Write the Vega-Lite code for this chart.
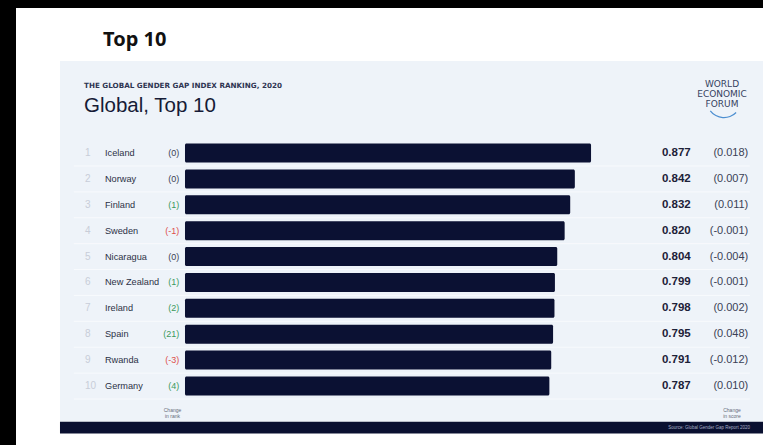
{
  "$schema": "https://vega.github.io/schema/vega-lite/v6.json",
  "width": 763,
  "height": 445,
  "autosize": {"type": "fit", "contains": "padding"},
  "padding": {"left": 16, "top": 8, "right": 0, "bottom": 0},
  "background": "#000000",
  "config": {"view": {"fill": "#ffffff", "stroke": null}, "scale": {"continuousPadding": 0}},
  "datasets": {
    "rows": [
      {"rank": 1, "country": "Iceland", "rank_change": 0, "rank_change_label": "(0)", "score": 0.877, "score_label": "0.877", "score_change_label": "(0.018)"},
      {"rank": 2, "country": "Norway", "rank_change": 0, "rank_change_label": "(0)", "score": 0.842, "score_label": "0.842", "score_change_label": "(0.007)"},
      {"rank": 3, "country": "Finland", "rank_change": 1, "rank_change_label": "(1)", "score": 0.832, "score_label": "0.832", "score_change_label": "(0.011)"},
      {"rank": 4, "country": "Sweden", "rank_change": -1, "rank_change_label": "(-1)", "score": 0.820, "score_label": "0.820", "score_change_label": "(-0.001)"},
      {"rank": 5, "country": "Nicaragua", "rank_change": 0, "rank_change_label": "(0)", "score": 0.804, "score_label": "0.804", "score_change_label": "(-0.004)"},
      {"rank": 6, "country": "New Zealand", "rank_change": 1, "rank_change_label": "(1)", "score": 0.799, "score_label": "0.799", "score_change_label": "(-0.001)"},
      {"rank": 7, "country": "Ireland", "rank_change": 2, "rank_change_label": "(2)", "score": 0.798, "score_label": "0.798", "score_change_label": "(0.002)"},
      {"rank": 8, "country": "Spain", "rank_change": 21, "rank_change_label": "(21)", "score": 0.795, "score_label": "0.795", "score_change_label": "(0.048)"},
      {"rank": 9, "country": "Rwanda", "rank_change": -3, "rank_change_label": "(-3)", "score": 0.791, "score_label": "0.791", "score_change_label": "(-0.012)"},
      {"rank": 10, "country": "Germany", "rank_change": 4, "rank_change_label": "(4)", "score": 0.787, "score_label": "0.787", "score_change_label": "(0.010)"}
    ],
    "one": [{"k": 1}]
  },
  "layer": [
    {
      "data": {"name": "one"},
      "mark": {"type": "rect", "color": "#eef3f9"},
      "encoding": {
        "x": {"datum": -0.27, "type": "quantitative", "scale": {"type": "linear", "domain": [-0.365, 1.2484], "nice": false, "zero": false, "padding": 0}, "axis": null},
        "x2": {"datum": 1.2484},
        "y": {"datum": -2.553, "type": "quantitative", "scale": {"type": "linear", "domain": [-4.601, 12.279], "nice": false, "zero": false, "reverse": true, "padding": 0}, "axis": null},
        "y2": {"datum": 11.378}
      }
    },
    {
      "data": {"name": "one"},
      "mark": {"type": "rect", "color": "#0a1030"},
      "encoding": {
        "x": {"datum": -0.27, "type": "quantitative", "scale": {"type": "linear", "domain": [-0.365, 1.2484], "nice": false, "zero": false, "padding": 0}, "axis": null},
        "x2": {"datum": 1.2484},
        "y": {"datum": 11.378, "type": "quantitative", "scale": {"type": "linear", "domain": [-4.601, 12.279], "nice": false, "zero": false, "reverse": true, "padding": 0}, "axis": null},
        "y2": {"datum": 11.834}
      }
    },
    {
      "data": {"name": "rows"},
      "mark": {"type": "rule", "color": "#f8fafd", "strokeWidth": 1, "yOffset": 13},
      "encoding": {
        "x": {"datum": -0.24, "type": "quantitative", "scale": {"type": "linear", "domain": [-0.365, 1.2484], "nice": false, "zero": false, "padding": 0}, "axis": null},
        "x2": {"datum": 1.22},
        "y": {"field": "rank", "type": "quantitative", "scale": {"type": "linear", "domain": [-4.601, 12.279], "nice": false, "zero": false, "reverse": true, "padding": 0}, "axis": null}
      }
    },
    {
      "data": {"name": "rows"},
      "mark": {"type": "bar", "orient": "horizontal", "size": 19, "cornerRadius": 1.5, "color": "#0b1133"},
      "encoding": {
        "x": {"field": "score", "type": "quantitative", "scale": {"type": "linear", "domain": [-0.365, 1.2484], "nice": false, "zero": false, "padding": 0}, "axis": null},
        "x2": {"datum": 0},
        "y": {"field": "rank", "type": "quantitative", "scale": {"type": "linear", "domain": [-4.601, 12.279], "nice": false, "zero": false, "reverse": true, "padding": 0}, "axis": null}
      }
    },
    {
      "data": {"name": "rows"},
      "mark": {"type": "text", "align": "left", "baseline": "middle", "font": "Liberation Sans", "fontSize": 10, "color": "#c8cdd8"},
      "encoding": {
        "x": {"datum": -0.216, "type": "quantitative", "scale": {"type": "linear", "domain": [-0.365, 1.2484], "nice": false, "zero": false, "padding": 0}, "axis": null},
        "y": {"field": "rank", "type": "quantitative", "scale": {"type": "linear", "domain": [-4.601, 12.279], "nice": false, "zero": false, "reverse": true, "padding": 0}, "axis": null},
        "text": {"field": "rank"}
      }
    },
    {
      "data": {"name": "rows"},
      "mark": {"type": "text", "align": "left", "baseline": "middle", "font": "Liberation Sans", "fontSize": 9.2, "color": "#2b3045"},
      "encoding": {
        "x": {"datum": -0.1728, "type": "quantitative", "scale": {"type": "linear", "domain": [-0.365, 1.2484], "nice": false, "zero": false, "padding": 0}, "axis": null},
        "y": {"field": "rank", "type": "quantitative", "scale": {"type": "linear", "domain": [-4.601, 12.279], "nice": false, "zero": false, "reverse": true, "padding": 0}, "axis": null},
        "text": {"field": "country"}
      }
    },
    {
      "data": {"name": "rows"},
      "mark": {"type": "text", "align": "right", "baseline": "middle", "font": "Liberation Sans", "fontSize": 9},
      "encoding": {
        "x": {"datum": -0.0123, "type": "quantitative", "scale": {"type": "linear", "domain": [-0.365, 1.2484], "nice": false, "zero": false, "padding": 0}, "axis": null},
        "y": {"field": "rank", "type": "quantitative", "scale": {"type": "linear", "domain": [-4.601, 12.279], "nice": false, "zero": false, "reverse": true, "padding": 0}, "axis": null},
        "text": {"field": "rank_change_label"},
        "color": {
          "condition": [
            {"test": "datum.rank_change > 0", "value": "#3a9a5c"},
            {"test": "datum.rank_change < 0", "value": "#dd4f4b"}
          ],
          "value": "#3a3f55"
        }
      }
    },
    {
      "data": {"name": "rows"},
      "mark": {"type": "text", "align": "left", "baseline": "middle", "font": "Liberation Sans", "fontSize": 11.5, "fontWeight": "bold", "color": "#1c2138"},
      "encoding": {
        "x": {"datum": 1.0302, "type": "quantitative", "scale": {"type": "linear", "domain": [-0.365, 1.2484], "nice": false, "zero": false, "padding": 0}, "axis": null},
        "y": {"field": "rank", "type": "quantitative", "scale": {"type": "linear", "domain": [-4.601, 12.279], "nice": false, "zero": false, "reverse": true, "padding": 0}, "axis": null},
        "text": {"field": "score_label"}
      }
    },
    {
      "data": {"name": "rows"},
      "mark": {"type": "text", "align": "right", "baseline": "middle", "font": "Liberation Sans", "fontSize": 11, "color": "#3a3f55"},
      "encoding": {
        "x": {"datum": 1.2166, "type": "quantitative", "scale": {"type": "linear", "domain": [-0.365, 1.2484], "nice": false, "zero": false, "padding": 0}, "axis": null},
        "y": {"field": "rank", "type": "quantitative", "scale": {"type": "linear", "domain": [-4.601, 12.279], "nice": false, "zero": false, "reverse": true, "padding": 0}, "axis": null},
        "text": {"field": "score_change_label"}
      }
    },
    {
      "data": {"name": "one"},
      "mark": {"type": "text", "align": "left", "baseline": "alphabetic", "font": "Noto Sans", "fontSize": 20, "fontWeight": "bold", "color": "#111111", "text": "Top 10"},
      "encoding": {
        "x": {"datum": -0.1771, "type": "quantitative", "scale": {"type": "linear", "domain": [-0.365, 1.2484], "nice": false, "zero": false, "padding": 0}, "axis": null},
        "y": {"datum": -3.144, "type": "quantitative", "scale": {"type": "linear", "domain": [-4.601, 12.279], "nice": false, "zero": false, "reverse": true, "padding": 0}, "axis": null}
      }
    },
    {
      "data": {"name": "one"},
      "mark": {"type": "text", "align": "left", "baseline": "alphabetic", "font": "DejaVu Sans", "fontSize": 7.2, "fontWeight": "bold", "color": "#2f3552", "text": "THE GLOBAL GENDER GAP INDEX RANKING, 2020"},
      "encoding": {
        "x": {"datum": -0.2181, "type": "quantitative", "scale": {"type": "linear", "domain": [-0.365, 1.2484], "nice": false, "zero": false, "padding": 0}, "axis": null},
        "y": {"datum": -1.499, "type": "quantitative", "scale": {"type": "linear", "domain": [-4.601, 12.279], "nice": false, "zero": false, "reverse": true, "padding": 0}, "axis": null}
      }
    },
    {
      "data": {"name": "one"},
      "mark": {"type": "text", "align": "left", "baseline": "alphabetic", "font": "Liberation Sans", "fontSize": 20.5, "color": "#161b36", "text": "Global, Top 10"},
      "encoding": {
        "x": {"datum": -0.2181, "type": "quantitative", "scale": {"type": "linear", "domain": [-0.365, 1.2484], "nice": false, "zero": false, "padding": 0}, "axis": null},
        "y": {"datum": -0.603, "type": "quantitative", "scale": {"type": "linear", "domain": [-4.601, 12.279], "nice": false, "zero": false, "reverse": true, "padding": 0}, "axis": null}
      }
    },
    {
      "data": {"name": "one"},
      "mark": {"type": "text", "align": "center", "baseline": "alphabetic", "font": "DejaVu Sans", "fontSize": 9, "lineHeight": 10, "color": "#36425f", "text": ["WORLD", "ECONOMIC", "FORUM"]},
      "encoding": {
        "x": {"datum": 1.1598, "type": "quantitative", "scale": {"type": "linear", "domain": [-0.365, 1.2484], "nice": false, "zero": false, "padding": 0}, "axis": null},
        "y": {"datum": -1.538, "type": "quantitative", "scale": {"type": "linear", "domain": [-4.601, 12.279], "nice": false, "zero": false, "reverse": true, "padding": 0}, "axis": null}
      }
    },
    {
      "data": {"name": "one"},
      "mark": {"type": "arc", "innerRadius": 16.5, "outerRadius": 17.7, "theta": 2.35, "theta2": 4.0666, "color": "#4d8fd1"},
      "encoding": {
        "x": {"datum": 1.1641, "type": "quantitative", "scale": {"type": "linear", "domain": [-0.365, 1.2484], "nice": false, "zero": false, "padding": 0}, "axis": null},
        "y": {"datum": -1.028, "type": "quantitative", "scale": {"type": "linear", "domain": [-4.601, 12.279], "nice": false, "zero": false, "reverse": true, "padding": 0}, "axis": null}
      }
    },
    {
      "data": {"name": "one"},
      "mark": {"type": "text", "align": "center", "baseline": "middle", "font": "Liberation Sans", "fontSize": 5, "lineHeight": 6, "color": "#666b7a", "text": ["Change", "in rank"]},
      "encoding": {
        "x": {"datum": -0.027, "type": "quantitative", "scale": {"type": "linear", "domain": [-0.365, 1.2484], "nice": false, "zero": false, "padding": 0}, "axis": null},
        "y": {"datum": 10.927, "type": "quantitative", "scale": {"type": "linear", "domain": [-4.601, 12.279], "nice": false, "zero": false, "reverse": true, "padding": 0}, "axis": null}
      }
    },
    {
      "data": {"name": "one"},
      "mark": {"type": "text", "align": "center", "baseline": "middle", "font": "Liberation Sans", "fontSize": 5, "lineHeight": 6, "color": "#666b7a", "text": ["Change", "in score"]},
      "encoding": {
        "x": {"datum": 1.1814, "type": "quantitative", "scale": {"type": "linear", "domain": [-0.365, 1.2484], "nice": false, "zero": false, "padding": 0}, "axis": null},
        "y": {"datum": 10.927, "type": "quantitative", "scale": {"type": "linear", "domain": [-4.601, 12.279], "nice": false, "zero": false, "reverse": true, "padding": 0}, "axis": null}
      }
    },
    {
      "data": {"name": "one"},
      "mark": {"type": "text", "align": "right", "baseline": "middle", "font": "Liberation Sans", "fontSize": 4.5, "color": "#a9afc6", "text": "Source: Global Gender Gap Report 2020"},
      "encoding": {
        "x": {"datum": 1.2203, "type": "quantitative", "scale": {"type": "linear", "domain": [-0.365, 1.2484], "nice": false, "zero": false, "padding": 0}, "axis": null},
        "y": {"datum": 11.61, "type": "quantitative", "scale": {"type": "linear", "domain": [-4.601, 12.279], "nice": false, "zero": false, "reverse": true, "padding": 0}, "axis": null}
      }
    }
  ]
}
